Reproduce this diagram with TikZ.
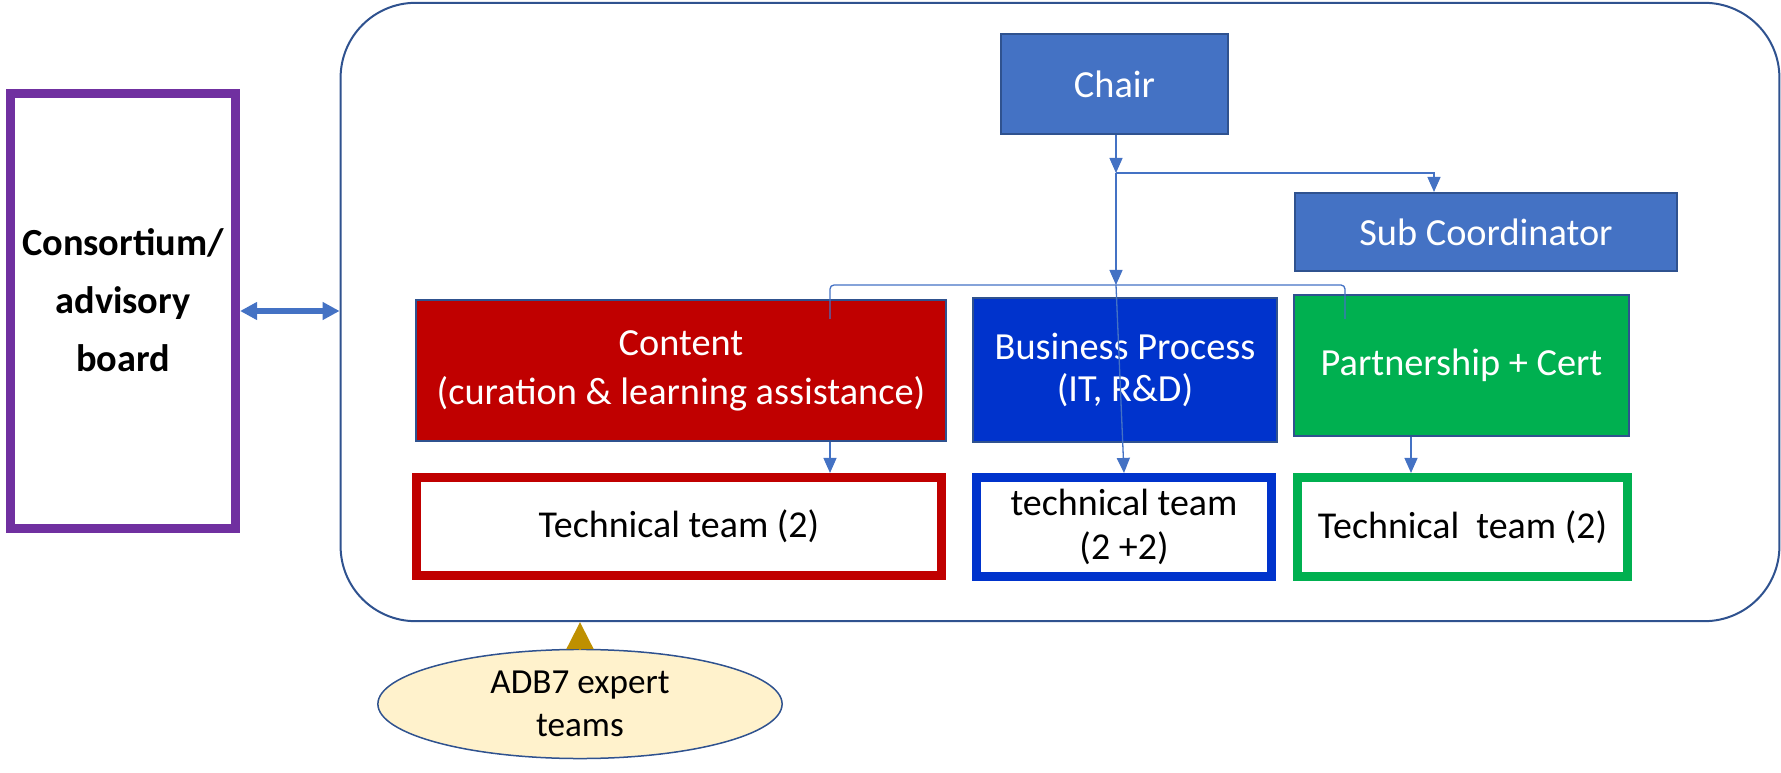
\documentclass[tikz,border=0pt]{standalone}
\usepackage{fontspec}
\setmainfont{Carlito}
\usetikzlibrary{shapes.geometric,arrows.meta}

\definecolor{chairblue}{HTML}{4472C4}
\definecolor{edgeblue}{HTML}{2F528F}
\definecolor{contentred}{HTML}{C00000}
\definecolor{processblue}{HTML}{0033CC}
\definecolor{certgreen}{HTML}{00B050}
\definecolor{boardpurple}{HTML}{7030A0}
\definecolor{expertfill}{HTML}{FFF2CC}
\definecolor{expertgold}{HTML}{BF9000}

\tikzset{
  unitbox/.style={draw=edgeblue,line width=0.02cm,text=white,align=center,
    inner sep=0pt,font=\fontsize{10.9}{14}\selectfont},
  teambox/.style={fill=white,line width=0.09cm,align=center,inner sep=0pt,
    font=\fontsize{10.8}{12.3}\selectfont},
  conn/.style={draw=chairblue,line width=0.013cm},
  conntip/.style={-{Triangle[length=0.15cm,width=0.13cm]}},
}

\begin{document}
\begin{tikzpicture}[x=0.01cm,y=-0.01cm]
  \useasboundingbox (0,0) rectangle (1781,773);

  % outer frame and board
  \node[draw=edgeblue,line width=0.02cm,rounded corners=0.75cm,inner sep=0pt,
    minimum width=14.38cm,minimum height=6.18cm] (frame) at (1060,312) {};
  \node[draw=boardpurple,line width=0.09cm,minimum width=2.25cm,minimum height=4.35cm,
    inner sep=0pt] (board) at (123,311) {};
  \node[align=center,inner sep=0pt,font=\bfseries\fontsize{10.9}{16.5}\selectfont]
    (boardtext) at (123,300) {Consortium/\\advisory\\board};

  % top of the chart
  \node[unitbox,fill=chairblue,minimum width=2.27cm,minimum height=1cm]
    (chair) at (1114.5,84) {Chair};
  \node[unitbox,fill=chairblue,minimum width=3.81cm,minimum height=0.78cm]
    (sub) at (1486,232) {Sub Coordinator};

  % units
  \node[unitbox,fill=contentred,minimum width=5.3cm,minimum height=1.41cm]
    (content) at (681,370.5) {Content\\(curation \& learning assistance)};
  \node[unitbox,fill=processblue,minimum width=3.04cm,minimum height=1.44cm,
    font=\fontsize{10.9}{12}\selectfont]
    (process) at (1125,370) {Business Process\\(IT, R\&D)};
  \node[unitbox,fill=certgreen,minimum width=3.35cm,minimum height=1.41cm]
    (part) at (1461.5,365.5) {Partnership + Cert};

  % technical teams
  \node[teambox,draw=contentred,minimum width=5.25cm,minimum height=0.98cm]
    (tred) at (679,526.5) {Technical team (2)};
  \node[teambox,draw=processblue,minimum width=2.95cm,minimum height=0.99cm]
    (tblue) at (1124,527) {technical team\\(2 +2)};
  \node[teambox,draw=certgreen,minimum width=3.30cm,minimum height=0.99cm]
    (tgreen) at (1462.5,527) {Technical\ \ team (2)};

  % expert teams
  \node[ellipse,draw=edgeblue,fill=expertfill,line width=0.015cm,inner sep=0pt,
    minimum width=4.04cm,minimum height=1.09cm,align=center,
    font=\fontsize{10}{12.3}\selectfont] (expert) at (580,704) {ADB7 expert\\teams};

  % connectors
  \coordinate (j1) at (1116,173);
  \coordinate (j2) at (1434,173);
  \coordinate (j3) at (1116,285);
  \coordinate (bl) at (830,319);
  \coordinate (br) at (1345,319);
  \coordinate (gx) at (1411,0);

  \draw[conn,conntip] (chair.south -| j1) -- (j1);
  \draw[conn,conntip] (j1) -- (j2) -- (j2 |- sub.north);
  \draw[conn,conntip] (j1) -- (j3);
  \draw[conn,rounded corners=0.04cm] (bl) |- (j3) -| (br);
  \draw[conn,conntip] (j3) -- (tblue.north);
  \draw[conn,conntip] (content.south -| bl) -- (tred.north -| bl);
  \draw[conn,conntip] (part.south -| gx) -- (tgreen.north -| gx);

  \draw[chairblue,line width=0.06cm,
    {Triangle[length=0.17cm,width=0.17cm]}-{Triangle[length=0.17cm,width=0.17cm]}]
    (board.east) -- (board.east -| frame.west);
  \draw[expertgold,line width=0.02cm,-{Triangle[length=0.27cm,width=0.27cm]}]
    (expert.north) -- (expert.north |- frame.south);
\end{tikzpicture}
\end{document}
